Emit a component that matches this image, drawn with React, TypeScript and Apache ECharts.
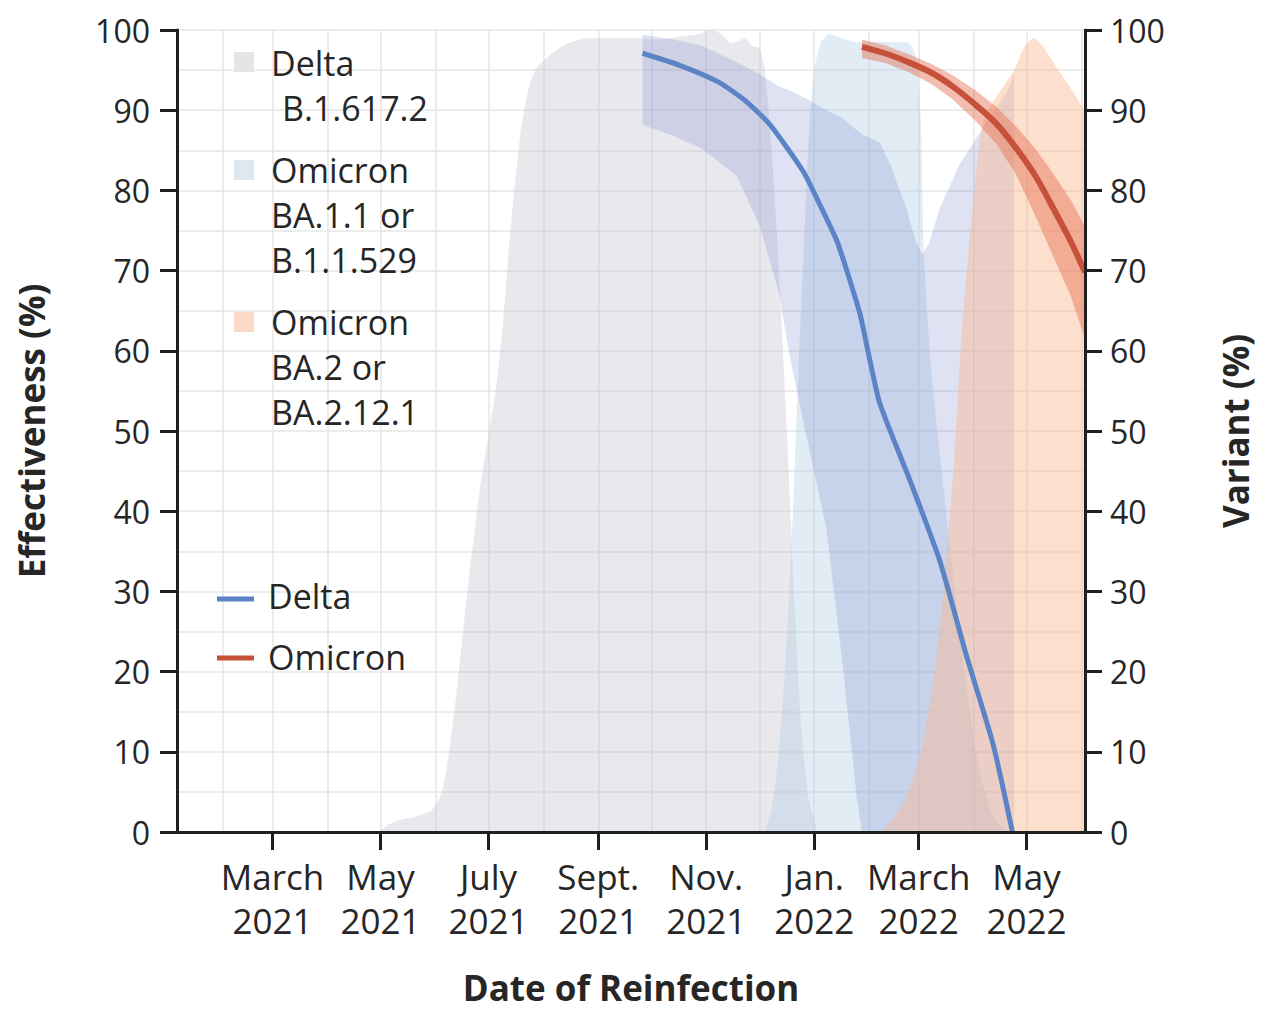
import React, { useEffect, useRef } from "react";
import * as echarts from "echarts";

// ---- axis setup ----
const X_MIN = "2021-01-06";
const X_MAX = "2022-06-03";
const tickDates = ["2021-03-01", "2021-05-01", "2021-07-01", "2021-09-01", "2021-11-01", "2022-01-01", "2022-03-01", "2022-05-01"];
const monthNames = ["Jan.", "Feb.", "March", "April", "May", "June", "July", "Aug.", "Sept.", "Oct.", "Nov.", "Dec."];
const gridMonths = [
  "2021-02-01", "2021-03-01", "2021-04-01", "2021-05-01", "2021-06-01", "2021-07-01", "2021-08-01", "2021-09-01",
  "2021-10-01", "2021-11-01", "2021-12-01", "2022-01-01", "2022-02-01", "2022-03-01", "2022-04-01", "2022-05-01", "2022-06-01",
];

// ---- variant share (%) ----
const deltaShareDates = [
  "2021-04-30", "2021-05-06", "2021-05-12", "2021-05-22", "2021-05-30", "2021-06-05", "2021-06-09", "2021-06-13",
  "2021-06-19", "2021-06-26", "2021-07-05", "2021-07-09", "2021-07-13", "2021-07-19", "2021-07-24", "2021-07-29",
  "2021-08-12", "2021-08-24", "2021-09-05", "2021-09-20", "2021-10-05", "2021-10-18", "2021-10-28", "2021-11-03",
  "2021-11-07", "2021-11-11", "2021-11-15", "2021-11-19", "2021-11-23", "2021-11-27", "2021-12-01", "2021-12-04",
  "2021-12-07", "2021-12-10", "2021-12-13", "2021-12-17", "2021-12-21", "2021-12-25", "2021-12-29", "2022-01-03",
];
const deltaShare = [
  0, 1.0, 1.5, 2.0, 2.7, 5.2, 10.5, 17.5,
  29.8, 42.5, 55, 63, 74, 87, 93, 95.5,
  98, 98.9, 99, 99, 98.8, 99.2, 99.5, 100,
  99.8, 99.2, 98.4, 98.6, 99, 98, 97.8, 95,
  88, 78, 66, 48, 28, 12, 4, 0,
];

const ba1Dates = [
  "2021-12-04", "2021-12-08", "2021-12-12", "2021-12-16", "2021-12-20", "2021-12-23", "2021-12-26", "2021-12-29",
  "2022-01-01", "2022-01-05", "2022-01-10", "2022-01-16", "2022-01-25", "2022-02-05", "2022-02-15", "2022-02-22",
  "2022-02-27", "2022-03-02", "2022-03-04", "2022-03-08", "2022-03-14", "2022-03-20", "2022-03-27", "2022-04-04",
  "2022-04-12", "2022-04-20",
];
const ba1Share = [
  0, 3, 10, 22, 40, 57, 72, 87,
  95, 98.5, 99.5, 99, 98.5, 98.5, 98.5, 98.5,
  97, 90, 72, 58, 45, 33, 20, 8,
  2, 0,
];

const ba2Dates = [
  "2022-02-08", "2022-02-14", "2022-02-21", "2022-02-28", "2022-03-05", "2022-03-10", "2022-03-15", "2022-03-18",
  "2022-03-21", "2022-03-25", "2022-03-29", "2022-04-02", "2022-04-06", "2022-04-12", "2022-04-18", "2022-04-24",
  "2022-04-30", "2022-05-05", "2022-05-10", "2022-05-16", "2022-05-22", "2022-05-28", "2022-06-03",
];
const ba2Share = [
  0, 1.5, 4, 8, 13, 20, 30, 38,
  46, 61, 72, 81, 88, 91, 93, 95,
  98, 99, 98, 96, 94, 92, 90,
];

// ---- effectiveness against reinfection (%) ----
const deltaVeDates = [
  "2021-09-26", "2021-10-17", "2021-11-08", "2021-11-23", "2021-12-07", "2021-12-26", "2022-01-04", "2022-01-14",
  "2022-01-21", "2022-01-27", "2022-02-01", "2022-02-07", "2022-02-24", "2022-03-13", "2022-03-28", "2022-04-12",
  "2022-04-23",
];
const deltaVe = [97.1, 95.6, 93.5, 91.2, 88.2, 82.3, 78.3, 73.6, 68.9, 64.5, 59.3, 53.5, 43.9, 33.8, 22, 11, 0];

const deltaBandDates = [
  "2021-09-26", "2021-10-11", "2021-10-29", "2021-11-18", "2021-12-01", "2021-12-12", "2021-12-18", "2021-12-27",
  "2022-01-08", "2022-01-17", "2022-01-25", "2022-01-28", "2022-02-07", "2022-02-13", "2022-02-22", "2022-02-27",
  "2022-03-03", "2022-03-07", "2022-03-13", "2022-03-24", "2022-04-05", "2022-04-14", "2022-04-20", "2022-04-24",
];
const deltaUpper = [
  99.4, 98.9, 98.1, 96, 94.5, 93, 92.5, 91.5, 90, 89, 87.5, 87,
  86, 83.2, 77.8, 74, 72, 73.5, 77.8, 83.2, 87.3, 90.3, 92.3, 94.4,
];
const deltaLower = [
  88.2, 87, 85.3, 81.9, 75.7, 67.3, 59.5, 50, 37.7, 21, 4.4, 0,
  0, 0, 0, 0, 0, 0, 0, 0, 0, 0, 0, 0,
];

const omicronDates = [
  "2022-01-28", "2022-02-10", "2022-02-23", "2022-03-08", "2022-03-20", "2022-04-02",
  "2022-04-14", "2022-04-25", "2022-05-06", "2022-05-16", "2022-05-26", "2022-06-03",
];
const omicronVe = [97.9, 97.1, 96.0, 94.7, 93.0, 90.7, 88.3, 85.3, 81.8, 77.8, 73.6, 69.8];
const omicronUpper = [98.8, 98.1, 97.0, 95.8, 94.4, 92.5, 90.4, 88.0, 85.2, 82.1, 78.8, 75.5];
const omicronLower = [96.5, 95.9, 94.8, 93.3, 91.4, 88.7, 85.8, 82.0, 76.8, 71.8, 66.8, 61.5];

// ---- styling ----
const FONT = '"Open Sans", "Noto Sans", sans-serif';
const INK = "#262626";
const GRID_LINE = "#e6e6e6";
const GRAY_FILL = "rgba(195,195,205,0.36)";
const BA1_FILL = "rgba(175,205,230,0.38)";
const BA2_FILL = "rgba(250,185,145,0.45)";
const BLUE_BAND = "rgba(110,125,200,0.22)";
const RED_BAND = "rgba(228,110,80,0.45)";
const BLUE = "#5a84c5";
const RED = "#c7503a";

// local-time timestamp for a "YYYY-MM-DD" string
const ts = (s: string) => {
  const [y, m, d] = s.split("-").map(Number);
  return new Date(y, m - 1, d).getTime();
};
const pairs = (dates: string[], vals: number[]) => dates.map((d, i) => [ts(d), vals[i]]);

const areaSeries = (name: string, dates: string[], vals: number[], fill: string) => ({
  name,
  type: "line",
  data: pairs(dates, vals),
  showSymbol: false,
  smooth: 0.25,
  lineStyle: { width: 0 },
  areaStyle: { color: fill, opacity: 1, origin: "start" },
  silent: true,
  z: 2,
});

const bandSeries = (name: string, dates: string[], lo: number[], hi: number[], fill: string) => ({
  name,
  type: "custom",
  data: [[ts(dates[0]), lo[0]]],
  silent: true,
  clip: true,
  z: 2,
  renderItem: (_params: any, api: any) => {
    const points: number[][] = [];
    for (let i = 0; i < dates.length; i++) points.push(api.coord([ts(dates[i]), hi[i]]));
    for (let i = dates.length - 1; i >= 0; i--) points.push(api.coord([ts(dates[i]), lo[i]]));
    return { type: "polygon", shape: { points }, style: { fill } };
  },
});

const lineSeries = (name: string, dates: string[], vals: number[], color: string, width: number, smooth: number) => ({
  name,
  type: "line",
  data: pairs(dates, vals),
  showSymbol: false,
  smooth,
  lineStyle: { color, width, cap: "butt" },
  silent: true,
  z: 2,
});

// ---- legend (drawn as graphic elements, above the grid lines) ----
const legendText = (text: string, x: number, y: number) => ({
  type: "text",
  x,
  y,
  z: 100,
  style: { text, fill: INK, fontSize: 34, fontFamily: FONT, verticalAlign: "middle", align: "left" },
});
const legendGraphic = [
  { type: "rect", z: 100, shape: { x: 234, y: 52, width: 20, height: 20 }, style: { fill: "#e5e5e8" } },
  legendText("Delta", 271, 63),
  legendText("B.1.617.2", 282, 108),
  { type: "rect", z: 100, shape: { x: 234, y: 160, width: 20, height: 20 }, style: { fill: "#dde8f1" } },
  legendText("Omicron", 271, 170),
  legendText("BA.1.1 or", 271, 215),
  legendText("B.1.1.529", 271, 260),
  { type: "rect", z: 100, shape: { x: 234, y: 312, width: 20, height: 20 }, style: { fill: "#fcdac6" } },
  legendText("Omicron", 271, 322),
  legendText("BA.2 or", 271, 367),
  legendText("BA.2.12.1", 271, 412),
  { type: "line", z: 100, shape: { x1: 217, y1: 599, x2: 254, y2: 599 }, style: { stroke: BLUE, lineWidth: 5 } },
  legendText("Delta", 268, 596),
  { type: "line", z: 100, shape: { x1: 217, y1: 658, x2: 254, y2: 658 }, style: { stroke: RED, lineWidth: 5 } },
  legendText("Omicron", 268, 657),
];

const axisLineStyle = { color: "#1f1f1f", width: 3 };
const titleStyle = { fontSize: 35, fontWeight: "bold", color: INK, fontFamily: FONT, lineHeight: 35 };

const option = {
  animation: false,
  backgroundColor: "#ffffff",
  textStyle: { fontFamily: FONT },
  grid: { left: 177, right: 180, top: 30, bottom: 179, containLabel: false, outerBoundsMode: "none" },
  xAxis: [
    {
      // date axis: values are local-time timestamps
      type: "value",
      min: ts(X_MIN),
      max: ts(X_MAX),
      position: "bottom",
      z: 10,
      name: "Date of Reinfection",
      nameLocation: "middle",
      nameGap: 138,
      nameTextStyle: titleStyle,
      axisLine: { show: true, lineStyle: axisLineStyle },
      axisTick: { show: true, length: 18, lineStyle: axisLineStyle, customValues: tickDates.map(ts) },
      axisLabel: {
        customValues: tickDates.map(ts),
        fontSize: 35,
        lineHeight: 44,
        margin: 22,
        color: INK,
        fontFamily: FONT,
        formatter: (v: number) => {
          const d = new Date(v);
          return `${monthNames[d.getMonth()]}\n${d.getFullYear()}`;
        },
      },
      splitLine: { show: false },
    },
    {
      // monthly vertical grid lines
      type: "value",
      min: ts(X_MIN),
      max: ts(X_MAX),
      position: "top",
      z: 0,
      axisLine: { show: false },
      axisTick: { show: false, customValues: gridMonths.map(ts) },
      axisLabel: { show: false, customValues: gridMonths.map(ts) },
      splitLine: { show: true, lineStyle: { color: GRID_LINE, width: 1.5 } },
    },
  ],
  yAxis: [
    {
      type: "value",
      position: "left",
      min: 0,
      max: 100,
      interval: 10,
      z: 10,
      name: "Effectiveness (%)",
      nameLocation: "middle",
      nameRotate: 90,
      nameGap: 128,
      nameTextStyle: titleStyle,
      axisLine: { show: true, lineStyle: axisLineStyle },
      axisTick: { show: true, length: 17, lineStyle: axisLineStyle },
      axisLabel: { fontSize: 32, margin: 27, color: INK, fontFamily: FONT },
      splitLine: { show: false },
    },
    {
      type: "value",
      position: "right",
      min: 0,
      max: 100,
      interval: 10,
      z: 10,
      name: "Variant (%)",
      nameLocation: "middle",
      nameRotate: 90,
      nameGap: 133,
      nameTextStyle: titleStyle,
      axisLine: { show: true, lineStyle: axisLineStyle },
      axisTick: { show: true, length: 17, lineStyle: axisLineStyle },
      axisLabel: { fontSize: 32, margin: 25, color: INK, fontFamily: FONT },
      splitLine: { show: false },
    },
    {
      // horizontal grid lines every 5 points
      type: "value",
      position: "left",
      min: 0,
      max: 100,
      interval: 5,
      z: 0,
      axisLine: { show: false },
      axisTick: { show: false },
      axisLabel: { show: false },
      splitLine: { show: true, lineStyle: { color: GRID_LINE, width: 1.5 } },
    },
  ],
  series: [
    areaSeries("Delta B.1.617.2", deltaShareDates, deltaShare, GRAY_FILL),
    areaSeries("Omicron BA.1.1 or B.1.1.529", ba1Dates, ba1Share, BA1_FILL),
    bandSeries("Delta 95% CI", deltaBandDates, deltaLower, deltaUpper, BLUE_BAND),
    lineSeries("Delta", deltaVeDates, deltaVe, BLUE, 5, 0.2),
    areaSeries("Omicron BA.2 or BA.2.12.1", ba2Dates, ba2Share, BA2_FILL),
    bandSeries("Omicron 95% CI", omicronDates, omicronLower, omicronUpper, RED_BAND),
    lineSeries("Omicron", omicronDates, omicronVe, RED, 6, 0.3),
  ],
  graphic: legendGraphic,
};

export default function App() {
  const ref = useRef<HTMLDivElement>(null);
  useEffect(() => {
    if (!ref.current) return;
    const chart = echarts.init(ref.current, null, { renderer: "svg" });
    chart.setOption(option as any);
    return () => chart.dispose();
  }, []);
  return (
    <div
      ref={ref}
      style={{ position: "absolute", left: 0, top: 0, width: 1265, height: 1011, background: "#ffffff" }}
    />
  );
}
